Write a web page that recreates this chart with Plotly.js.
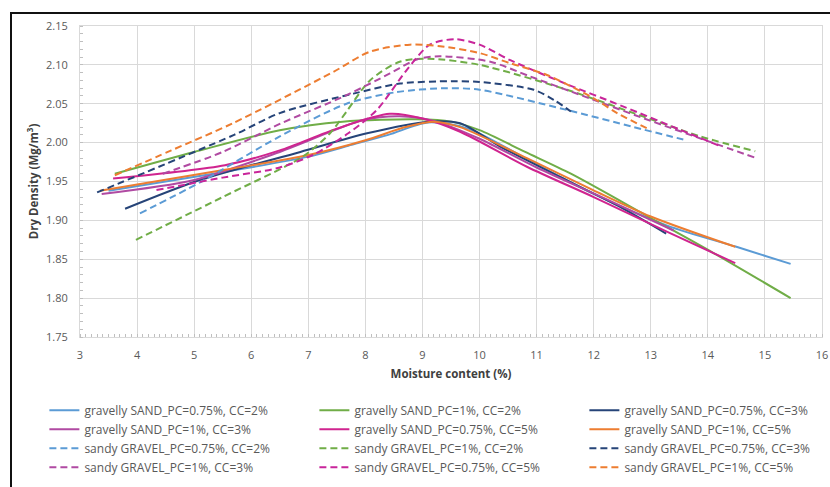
<!DOCTYPE html>
<html>
<head>
<meta charset="utf-8">
<script src="https://cdn.plot.ly/plotly-3.0.1.min.js"></script>
<style>
html,body{margin:0;padding:0;background:#fff;}
#wrap{position:relative;width:830px;height:487px;overflow:hidden;}
#chart{position:absolute;left:0;top:0;width:830px;height:487px;}
#frame{position:absolute;left:10px;top:12px;width:840px;height:500px;border:2px solid #111;pointer-events:none;}
</style>
</head>
<body>
<div id="wrap"><div id="chart"></div><div id="frame"></div></div>
<script>
// ---- data (moisture content %, dry density Mg/m3) ----
const seriesNames = [
  "gravelly SAND_PC=0.75%, CC=2%", "gravelly SAND_PC=1%, CC=2%", "gravelly SAND_PC=0.75%, CC=3%",
  "gravelly SAND_PC=1%, CC=3%", "gravelly SAND_PC=0.75%, CC=5%", "gravelly SAND_PC=1%, CC=5%",
  "sandy GRAVEL_PC=0.75%, CC=2%", "sandy GRAVEL_PC=1%, CC=2%", "sandy GRAVEL_PC=0.75%, CC=3%",
  "sandy GRAVEL_PC=1%, CC=3%", "sandy GRAVEL_PC=0.75%, CC=5%", "sandy GRAVEL_PC=1%, CC=5%"
];

const xSand075cc2 = [3.5, 5.5, 7.0, 7.7, 8.4, 9.1, 9.8, 10.8, 12.0, 13.3, 14.5, 15.45];
const ySand075cc2 = [1.938, 1.962, 1.982, 1.996, 2.010, 2.026, 2.018, 1.980, 1.934, 1.893, 1.866, 1.844];

const xSand1cc2 = [3.61, 5.0, 6.5, 7.6, 8.9, 9.5, 10.0, 10.8, 11.6, 13.0, 14.1, 15.45];
const ySand1cc2 = [1.960, 1.988, 2.016, 2.027, 2.030, 2.027, 2.016, 1.988, 1.960, 1.903, 1.858, 1.800];

const xSand075cc3 = [3.79, 5.1, 6.86, 8.03, 9.1, 9.66, 10.36, 11.41, 12.47, 13.27];
const ySand075cc3 = [1.915, 1.952, 1.988, 2.012, 2.027, 2.025, 1.995, 1.956, 1.917, 1.883];

const xSand1cc3 = [3.38, 5.0, 6.5, 7.96, 8.6, 9.2, 10.0, 11.0, 12.2, 13.4];
const ySand1cc3 = [1.934, 1.952, 1.988, 2.029, 2.034, 2.028, 2.005, 1.968, 1.928, 1.887];

const xSand075cc5 = [3.58, 5.54, 6.5, 7.5, 8.43, 9.0, 9.66, 10.83, 12.0, 13.3, 14.48];
const ySand075cc5 = [1.954, 1.971, 1.990, 2.018, 2.037, 2.031, 2.014, 1.969, 1.930, 1.885, 1.845];

const xSand1cc5 = [3.35, 5.54, 7.0, 8.0, 8.7, 9.2, 9.66, 10.83, 11.99, 13.0, 14.48];
const ySand1cc5 = [1.938, 1.965, 1.984, 2.003, 2.020, 2.027, 2.020, 1.980, 1.939, 1.905, 1.866];

const xGrav075cc2 = [4.05, 5.13, 6.5, 7.67, 8.55, 9.4, 10.0, 11.53, 12.7, 13.57];
const yGrav075cc2 = [1.909, 1.950, 2.008, 2.050, 2.065, 2.070, 2.068, 2.042, 2.020, 2.004];

const xGrav1cc2 = [3.98, 5.5, 6.9, 7.38, 7.67, 8.08, 8.6, 9.1, 10.0, 11.53, 12.7, 13.87, 14.83];
const yGrav1cc2 = [1.875, 1.930, 1.982, 2.012, 2.040, 2.080, 2.104, 2.108, 2.100, 2.068, 2.038, 2.008, 1.989];

const xGrav075cc3 = [3.3, 5.7, 6.5, 7.79, 8.61, 9.5, 10.0, 10.95, 11.3, 11.6];
const yGrav075cc3 = [1.936, 2.010, 2.038, 2.063, 2.076, 2.079, 2.078, 2.068, 2.055, 2.040];

const xGrav1cc3 = [4.45, 5.5, 6.5, 7.67, 8.43, 8.9, 9.3, 10.19, 10.89, 12.0, 13.0, 14.0, 14.85];
const yGrav1cc3 = [1.960, 1.988, 2.024, 2.061, 2.089, 2.107, 2.111, 2.104, 2.085, 2.055, 2.028, 2.002, 1.980];

const xGrav075cc5 = [4.34, 5.5, 6.5, 7.1, 7.7, 8.2, 8.72, 9.13, 9.57, 10.0, 10.54, 11.5, 12.5, 13.5, 14.2];
const yGrav075cc5 = [1.939, 1.955, 1.968, 1.985, 2.012, 2.042, 2.093, 2.126, 2.133, 2.126, 2.106, 2.076, 2.047, 2.017, 1.996];

const xGrav1cc5 = [3.61, 4.6, 5.68, 7.44, 8.08, 8.78, 9.31, 10.01, 10.54, 11.18, 12.0, 12.41, 13.0];
const yGrav1cc5 = [1.958, 1.990, 2.025, 2.091, 2.117, 2.126, 2.124, 2.115, 2.102, 2.087, 2.057, 2.038, 2.016];

const xTicks = [3,4,5,6,7,8,9,10,11,12,13,14,15,16];
const yTicks = [1.75,1.80,1.85,1.90,1.95,2.00,2.05,2.10,2.15];

// ---- styling ----
const colors = ["#5B9BD5","#70AD47","#264478","#B04AA2","#D0248F","#ED7D31",
                "#5B9BD5","#70AD47","#264478","#B04AA2","#C8259A","#ED7D31"];
const xs = [xSand075cc2,xSand1cc2,xSand075cc3,xSand1cc3,xSand075cc5,xSand1cc5,
            xGrav075cc2,xGrav1cc2,xGrav075cc3,xGrav1cc3,xGrav075cc5,xGrav1cc5];
const ys = [ySand075cc2,ySand1cc2,ySand075cc3,ySand1cc3,ySand075cc5,ySand1cc5,
            yGrav075cc2,yGrav1cc2,yGrav075cc3,yGrav1cc3,yGrav075cc5,yGrav1cc5];

const traces = seriesNames.map((n,i)=>({
  type:'scatter', mode:'lines', name:n, x:xs[i], y:ys[i],
  line:{color:colors[i], width:2, shape:'spline', smoothing:0.8, dash: i<6 ? 'solid' : '7px,4px'}
}));

const tickFont = {family:'"Open Sans", "Noto Sans", sans-serif', size:11, color:'#595959'};
const layout = {
  width:830, height:487,
  margin:{l:80, r:8, t:26, b:150, autoexpand:false},
  paper_bgcolor:'#fff', plot_bgcolor:'#fff',
  showlegend:true,
  xaxis:{range:[3,16], tickvals:xTicks, ticktext:xTicks.map(String), showgrid:true, gridcolor:'#d9d9d9', gridwidth:1,
         zeroline:false, showline:true, linecolor:'#d9d9d9', mirror:true, ticks:'', tickfont:tickFont,
         ticklabelstandoff:8, automargin:false,
         minor:{dtick:0.1, ticks:'inside', ticklen:3, tickcolor:'#bfbfbf', showgrid:false},
         title:{text:'<b>Moisture content (%)</b>', font:{family:'"Open Sans", sans-serif', size:11.5, color:'#404040'}, standoff:8}},
  yaxis:{range:[1.75,2.15], tickvals:yTicks, ticktext:yTicks.map(v=>v.toFixed(2)), showgrid:true, gridcolor:'#d9d9d9', gridwidth:1,
         zeroline:false, showline:true, linecolor:'#d9d9d9', mirror:true, ticks:'', tickfont:tickFont,
         ticklabelstandoff:9, automargin:false,
         minor:{dtick:0.01, ticks:'inside', ticklen:3, tickcolor:'#bfbfbf', showgrid:false},
         title:{text:'<b>Dry Density (Mg/m<sup>3</sup>)</b>', font:{family:'"Open Sans", sans-serif', size:11.5, color:'#404040'}, standoff:5}},
  legend:{orientation:'h', x:-0.048, xanchor:'left', y:-0.189, yanchor:'top',
          entrywidth:225, entrywidthmode:'pixels', itemwidth:30, tracegroupgap:0,
          font:{family:'"Open Sans", sans-serif', size:12, color:'#595959'}}
};
Plotly.newPlot('chart', traces, layout, {displayModeBar:false, staticPlot:true});
</script>
</body>
</html>
